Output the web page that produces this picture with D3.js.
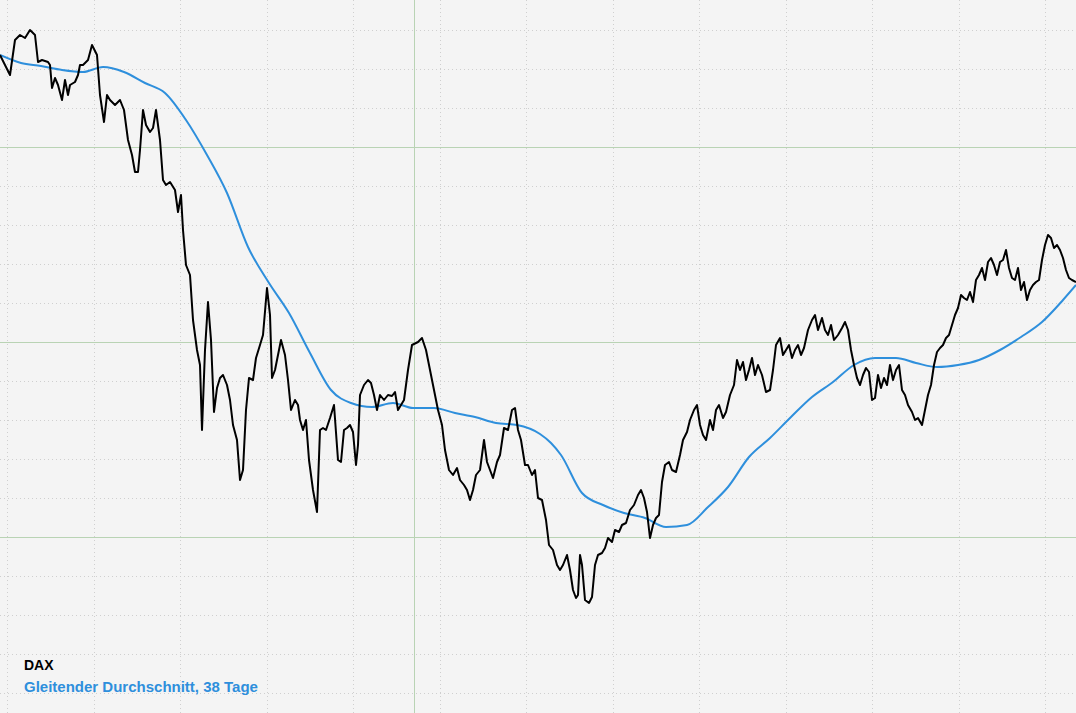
<!DOCTYPE html>
<html><head><meta charset="utf-8">
<script src="https://cdn.jsdelivr.net/npm/d3@7"></script>
<style>body{margin:0;background:#f4f4f4}svg{display:block}</style>
</head><body><svg id="chart"></svg>
<script>
// time position of each quote (session units since start of window)
const t = [0,5,10,15,20,25,30,35,38,42,48,50,52,55,58,62,65,68,70,75,78,80,83,88,92,97,100,104,107,110,115,120,124,128,132,135,138,140,143,146,150,153,156,160,163,166,170,175,178,181,183,186,190,193,197,200,202,205,208,211,214,217,220,223,227,230,233,237,240,243,246,249,253,256,260,263,267,270,272,275,278,281,285,288,291,295,298,300,303,306,309,313,317,320,323,326,330,334,338,341,344,347,350,353,356,358,360,364,368,371,374,377,380,384,388,392,395,398,401,404,408,412,418,422,426,430,434,438,442,445,449,453,457,460,464,467,470,473,476,480,484,487,490,493,497,500,504,508,512,515,518,521,525,528,532,535,538,542,546,549,553,557,560,563,567,570,573,576,578,580,582,585,589,592,595,598,602,605,608,612,615,619,622,626,630,634,638,641,644,647,650,653,656,659,662,665,669,672,676,680,683,687,690,694,697,700,703,706,710,713,716,719,723,726,730,734,737,740,743,746,749,752,755,758,762,766,770,773,776,780,783,786,789,792,795,798,801,804,808,812,815,818,822,825,828,831,834,838,842,845,848,851,854,857,860,863,866,869,872,875,878,881,884,887,890,893,896,899,902,905,908,912,915,918,922,925,928,931,934,937,940,943,946,949,952,955,958,961,964,967,970,973,976,979,982,985,988,991,994,997,1000,1003,1006,1009,1012,1015,1018,1021,1024,1027,1030,1033,1036,1039,1042,1045,1048,1051,1054,1057,1060,1063,1066,1069,1072,1076];
// DAX closing values (index points)
const dax = [13725,13675,13625,13800,13825,13810,13850,13825,13690,13700,13690,13675,13560,13610,13575,13500,13600,13525,13575,13590,13625,13675,13675,13700,13775,13725,13525,13390,13525,13500,13475,13500,13450,13300,13225,13140,13140,13250,13450,13375,13340,13360,13450,13300,13100,13075,13090,13050,12940,13025,12850,12675,12625,12400,12250,12175,11850,12250,12490,12300,11940,12060,12110,12125,12075,12000,11875,11800,11600,11650,11950,12110,12100,12210,12275,12325,12560,12425,12110,12150,12225,12300,12225,12100,11950,12000,11975,11900,11850,11900,11700,11550,11440,11850,11860,11850,11910,11975,11700,11690,11850,11860,11875,11840,11675,11775,12025,12075,12100,12085,12025,11950,12025,12000,12025,12020,12040,11950,11975,12000,12150,12275,12290,12310,12250,12150,12050,11950,11875,11750,11650,11625,11660,11600,11575,11550,11500,11550,11625,11650,11800,11690,11650,11610,11690,11725,11860,11850,11950,11960,11850,11800,11675,11675,11625,11650,11510,11500,11400,11275,11250,11175,11150,11175,11225,11150,11050,11010,11025,11225,11175,11000,10985,11015,11175,11225,11235,11260,11310,11290,11350,11340,11375,11385,11450,11475,11525,11550,11510,11440,11310,11375,11410,11425,11590,11675,11690,11650,11640,11725,11800,11840,11900,11950,11975,11875,11825,11800,11900,11850,11950,11975,11910,11940,12025,12075,12200,12150,12190,12100,12150,12210,12125,12175,12125,12040,12050,12150,12275,12310,12225,12250,12275,12210,12250,12275,12225,12260,12350,12400,12425,12350,12410,12350,12325,12375,12300,12325,12360,12390,12350,12250,12175,12110,12075,12125,12160,12140,12000,12010,12125,12060,12110,12075,12175,12100,12150,12175,12050,12025,11975,11940,11900,11910,11875,11950,12025,12075,12175,12240,12260,12275,12310,12325,12375,12425,12460,12525,12510,12500,12540,12490,12600,12625,12660,12600,12690,12710,12675,12625,12690,12700,12750,12660,12610,12600,12660,12550,12590,12500,12550,12575,12590,12600,12700,12775,12825,12810,12760,12775,12750,12710,12650,12610,12600,12590];
// 38-day moving average: time positions and values
const maT = [0,21,41,62,83,103,124,145,165,186,207,227,248,269,289,310,331,351,372,393,413,434,455,475,496,517,540,551,561,582,603,624,645,666,687,708,728,749,770,791,812,833,854,875,896,916,937,958,979,1000,1021,1042,1063,1076];
const ma38 = [13725,13685,13670,13650,13640,13665,13640,13585,13535,13400,13225,13035,12765,12585,12435,12235,12050,11985,11965,11985,11960,11960,11935,11915,11885,11875,11830,11785,11725,11535,11475,11435,11410,11365,11375,11465,11565,11715,11810,11915,12015,12090,12175,12210,12210,12185,12165,12175,12200,12250,12315,12390,12500,12575];
const legendLabels = ["DAX", "Gleitender Durchschnitt, 38 Tage"];
const majorLevels = [13265, 12290, 11315];
const minorStep = 195;
const monthStart = 414;
const weekStep = 86.5, weekFirst = 7;

const W = 1076, H = 713;
const svg = d3.select("#chart").attr("width", W).attr("height", H);
svg.append("rect").attr("width", W).attr("height", H).attr("fill", "#f4f4f4");

const x = d3.scaleLinear().domain([0, 1076]).range([0, W]);
const y = d3.scaleLinear().domain([10435, 14000]).range([H, 0]);
const px = v => Math.round(v) + .5;

// grid
const minorLevels = [];
for (let v = majorLevels[0] + minorStep * 4; v > 10435; v -= minorStep) minorLevels.push(v);
svg.append("g").selectAll("line").data(minorLevels.filter(v => !majorLevels.includes(v))).join("line")
  .attr("x1", 0).attr("x2", W).attr("y1", d => px(y(d))).attr("y2", d => px(y(d)))
  .attr("stroke", "#cfcfcf").attr("stroke-dasharray", "1,3");
svg.append("g").selectAll("line").data(d3.range(weekFirst, 1076, weekStep)).join("line")
  .attr("x1", d => px(x(d))).attr("x2", d => px(x(d))).attr("y1", 0).attr("y2", H)
  .attr("stroke", "#cfcfcf").attr("stroke-dasharray", "1,3");
svg.append("g").selectAll("line").data(majorLevels).join("line")
  .attr("x1", 0).attr("x2", W).attr("y1", d => px(y(d))).attr("y2", d => px(y(d)))
  .attr("stroke", "#b9d3b4");
svg.append("line").attr("x1", px(x(monthStart))).attr("x2", px(x(monthStart)))
  .attr("y1", 0).attr("y2", H).attr("stroke", "#b9d3b4");

// lines
svg.append("path").datum(ma38).attr("fill", "none").attr("stroke", "#2e8fdc").attr("stroke-width", 2)
  .attr("d", d3.line().x((d, i) => x(maT[i])).y(d => y(d)).curve(d3.curveMonotoneX));
svg.append("path").datum(dax).attr("fill", "none").attr("stroke", "#000").attr("stroke-width", 2)
  .attr("stroke-linejoin", "round")
  .attr("d", d3.line().x((d, i) => x(t[i])).y(d => y(d)));

// legend
const font = "Liberation Sans, Arial, sans-serif";
svg.append("text").attr("x", 24).attr("y", 670).text(legendLabels[0])
  .attr("font-family", font).attr("font-size", 14).attr("font-weight", "bold").attr("fill", "#000");
svg.append("text").attr("x", 24).attr("y", 692).text(legendLabels[1])
  .attr("font-family", font).attr("font-size", 15).attr("font-weight", "bold").attr("fill", "#2e8fdc");
</script></body></html>
